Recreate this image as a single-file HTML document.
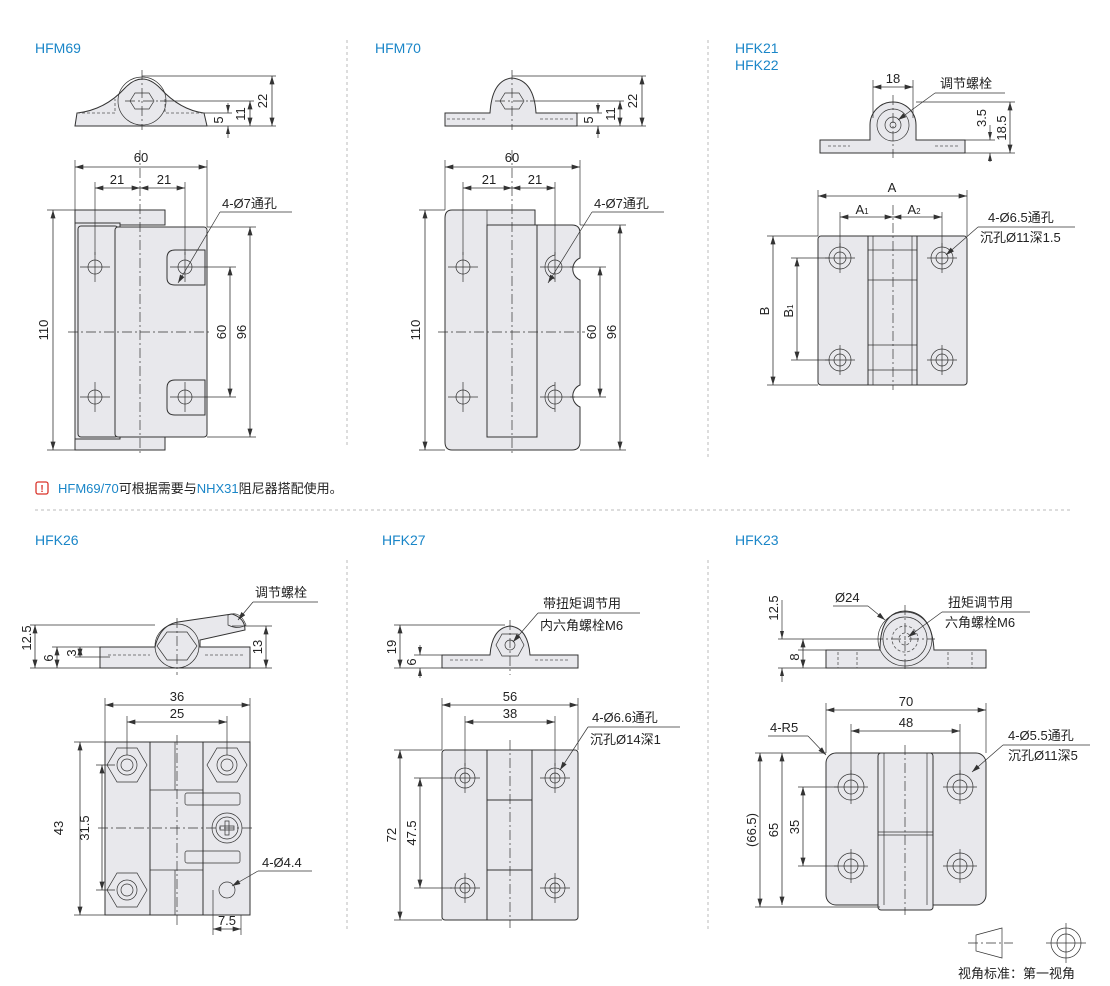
<!DOCTYPE html>
<html><head><meta charset="utf-8"><style>
html,body{margin:0;padding:0;background:#fff}
svg{display:block}
text{font-family:"Liberation Sans","Noto Sans CJK SC",sans-serif;font-size:13px;fill:#222}
.t{fill:#1a86c8;font-size:14px}
.s{fill:#e8e8ec;stroke:#333;stroke-width:1}
.e{stroke:#333;stroke-width:.7;fill:none}
.d{stroke:#333;stroke-width:.8;fill:none;marker-start:url(#a);marker-end:url(#a)}
.c{stroke:#333;stroke-width:.7;fill:none;stroke-dasharray:10 3 2 3}
.h{stroke:#333;stroke-width:.9;fill:#e8e8ec}
.dv{stroke:#bbb;stroke-width:1;stroke-dasharray:3 3;fill:none}
.dash{stroke:#555;stroke-width:.8;stroke-dasharray:3 2;fill:none}
</style></head><body>
<svg width="1110" height="986" viewBox="0 0 1110 986" xmlns="http://www.w3.org/2000/svg">
<defs>
<marker id="a" viewBox="0 0 10 6" refX="10" refY="3" markerWidth="9" markerHeight="5" orient="auto-start-reverse" markerUnits="userSpaceOnUse"><path d="M0,0L10,3L0,6z" fill="#333"/></marker>
</defs>

<!-- dividers -->
<line class="dv" x1="347" y1="40" x2="347" y2="445"/>
<line class="dv" x1="708" y1="40" x2="708" y2="460"/>
<line class="dv" x1="35" y1="510" x2="1070" y2="510"/>
<line class="dv" x1="347" y1="560" x2="347" y2="930"/>
<line class="dv" x1="708" y1="560" x2="708" y2="930"/>

<!-- ============ HFM69 ============ -->
<text class="t" x="35" y="53">HFM69</text>
<path class="s" d="M75,126 L77,113 Q105,110 125,88 Q142,70 160,88 Q180,110 204,113 L207,126 Z"/>
<circle class="e" cx="142" cy="101" r="24"/>
<polygon class="e" points="135,93 149,93 154,101 149,109 135,109 130,101"/>
<path class="dash" d="M77,113 H115 V99 M204,113 H165 V99"/>
<line class="c" x1="142" y1="70" x2="142" y2="130"/><line class="c" x1="125" y1="101" x2="160" y2="101"/>
<line class="e" x1="142" y1="76" x2="276" y2="76"/><line class="e" x1="160" y1="101" x2="254" y2="101"/>
<line class="e" x1="204" y1="113" x2="232" y2="113"/><line class="e" x1="207" y1="126" x2="276" y2="126"/>
<line class="d" x1="272" y1="76" x2="272" y2="126"/>
<line class="d" x1="250" y1="101" x2="250" y2="126"/>
<line class="e" x1="228" y1="103" x2="228" y2="113"/><line class="e" x1="228" y1="126" x2="228" y2="138"/>
<path d="M228,113l-2,-8h4z M228,126l-2,8h4z" fill="#333"/>
<text transform="translate(245,114) rotate(-90)" text-anchor="middle">11</text>
<text transform="translate(267,101) rotate(-90)" text-anchor="middle">22</text>
<text transform="translate(223,120) rotate(-90)" text-anchor="middle">5</text>

<path class="s" d="M75,210 H165 V225 H75 Z M75,437 H165 V450 H75 Z"/>
<rect class="s" x="75" y="223" width="45" height="216"/>
<rect class="s" x="78" y="226" width="40" height="211" rx="3"/>
<rect class="s" x="115" y="227" width="92" height="210" rx="3"/>
<path class="s" d="M167,258 Q167,250 175,250 H205 V285 H175 Q167,285 167,278 Z"/>
<path class="s" d="M167,388 Q167,380 175,380 H205 V415 H175 Q167,415 167,408 Z"/>
<g class="e"><circle cx="95" cy="267" r="7"/><circle cx="95" cy="397" r="7"/><circle cx="185" cy="267" r="7"/><circle cx="185" cy="397" r="7"/>
<path d="M80,267h30M95,252v30M80,397h30M95,382v30M170,267h35M185,252v30M170,397h35M185,382v30"/></g>
<line class="c" x1="140" y1="150" x2="140" y2="456"/><line class="c" x1="68" y1="332" x2="212" y2="332"/>
<line class="e" x1="75" y1="160" x2="75" y2="210"/><line class="e" x1="207" y1="160" x2="207" y2="227"/>
<line class="d" x1="75" y1="167" x2="207" y2="167"/><text x="141" y="162" text-anchor="middle">60</text>
<line class="e" x1="95" y1="182" x2="95" y2="255"/><line class="e" x1="185" y1="182" x2="185" y2="255"/>
<line class="d" x1="95" y1="188" x2="140" y2="188"/><line class="d" x1="140" y1="188" x2="185" y2="188"/>
<text x="117" y="184" text-anchor="middle">21</text><text x="164" y="184" text-anchor="middle">21</text>
<line class="e" x1="47" y1="210" x2="75" y2="210"/><line class="e" x1="47" y1="450" x2="75" y2="450"/>
<line class="d" x1="53" y1="210" x2="53" y2="450"/><text transform="translate(48,330) rotate(-90)" text-anchor="middle">110</text>
<line class="e" x1="205" y1="267" x2="236" y2="267"/><line class="e" x1="205" y1="397" x2="236" y2="397"/>
<line class="d" x1="230" y1="267" x2="230" y2="397"/><text transform="translate(226,332) rotate(-90)" text-anchor="middle">60</text>
<line class="e" x1="207" y1="227" x2="256" y2="227"/><line class="e" x1="207" y1="437" x2="256" y2="437"/>
<line class="d" x1="250" y1="227" x2="250" y2="437"/><text transform="translate(246,332) rotate(-90)" text-anchor="middle">96</text>
<text x="222" y="208">4-Ø7通孔</text><line class="e" x1="220" y1="212" x2="292" y2="212"/>
<line class="e" x1="220" y1="212" x2="178" y2="283" marker-end="url(#a)"/>

<!-- ============ HFM70 ============ -->
<text class="t" x="375" y="53">HFM70</text>
<path class="s" d="M445,126 V113 H490 Q492,80 512,78 Q534,80 536,113 H577 V126 Z"/>
<polygon class="e" points="505,93 519,93 524,101 519,109 505,109 500,101"/>
<path class="dash" d="M447,119 H485 M540,119 H575"/>
<line class="c" x1="512" y1="70" x2="512" y2="130"/><line class="c" x1="495" y1="101" x2="530" y2="101"/>
<line class="e" x1="512" y1="76" x2="646" y2="76"/><line class="e" x1="530" y1="101" x2="624" y2="101"/>
<line class="e" x1="577" y1="113" x2="602" y2="113"/><line class="e" x1="577" y1="126" x2="646" y2="126"/>
<line class="d" x1="642" y1="76" x2="642" y2="126"/><line class="d" x1="620" y1="101" x2="620" y2="126"/>
<line class="e" x1="598" y1="103" x2="598" y2="113"/><line class="e" x1="598" y1="126" x2="598" y2="138"/>
<path d="M598,113l-2,-8h4z M598,126l-2,8h4z" fill="#333"/>
<text transform="translate(615,114) rotate(-90)" text-anchor="middle">11</text>
<text transform="translate(637,101) rotate(-90)" text-anchor="middle">22</text>
<text transform="translate(593,120) rotate(-90)" text-anchor="middle">5</text>

<path class="s" d="M452,210 H535 V225 H572 Q580,225 580,233 V258 A12,12 0 0 0 580,280 V385 A12,12 0 0 0 580,407 V442 Q580,450 572,450 H452 Q445,450 445,442 V218 Q445,210 452,210 Z"/>
<rect class="s" x="487" y="225" width="50" height="212"/>
<path class="e" d="M487,225 V210"/>
<g class="e"><circle cx="463" cy="267" r="7"/><circle cx="463" cy="397" r="7"/><circle cx="555" cy="267" r="7"/><circle cx="555" cy="397" r="7"/>
<path d="M448,267h30M463,252v30M448,397h30M463,382v30M540,267h35M555,252v30M540,397h35M555,382v30"/>
<path d="M555,255 A12,12 0 0 0 545,267 A12,12 0 0 0 555,279 M555,385 A12,12 0 0 0 545,397 A12,12 0 0 0 555,409"/></g>
<line class="c" x1="512" y1="150" x2="512" y2="456"/><line class="c" x1="438" y1="332" x2="585" y2="332"/>
<line class="e" x1="445" y1="160" x2="445" y2="210"/><line class="e" x1="580" y1="160" x2="580" y2="225"/>
<line class="d" x1="445" y1="167" x2="580" y2="167"/><text x="512" y="162" text-anchor="middle">60</text>
<line class="e" x1="463" y1="182" x2="463" y2="255"/><line class="e" x1="555" y1="182" x2="555" y2="255"/>
<line class="d" x1="463" y1="188" x2="512" y2="188"/><line class="d" x1="512" y1="188" x2="555" y2="188"/>
<text x="489" y="184" text-anchor="middle">21</text><text x="535" y="184" text-anchor="middle">21</text>
<line class="e" x1="419" y1="210" x2="445" y2="210"/><line class="e" x1="419" y1="450" x2="445" y2="450"/>
<line class="d" x1="425" y1="210" x2="425" y2="450"/><text transform="translate(420,330) rotate(-90)" text-anchor="middle">110</text>
<line class="e" x1="570" y1="267" x2="606" y2="267"/><line class="e" x1="570" y1="397" x2="606" y2="397"/>
<line class="d" x1="600" y1="267" x2="600" y2="397"/><text transform="translate(596,332) rotate(-90)" text-anchor="middle">60</text>
<line class="e" x1="580" y1="225" x2="626" y2="225"/><line class="e" x1="580" y1="450" x2="626" y2="450"/>
<line class="d" x1="620" y1="225" x2="620" y2="450"/><text transform="translate(616,332) rotate(-90)" text-anchor="middle">96</text>
<text x="594" y="208">4-Ø7通孔</text><line class="e" x1="592" y1="212" x2="664" y2="212"/>
<line class="e" x1="592" y1="212" x2="548" y2="283" marker-end="url(#a)"/>

<!-- ============ HFK21/22 ============ -->
<text class="t" x="735" y="53">HFK21</text><text class="t" x="735" y="70">HFK22</text>
<path class="s" d="M820,140 H870 V125 A23,23 0 0 1 916,125 V140 H965 V153 H820 Z"/>
<circle class="e" cx="893" cy="125" r="16"/><circle class="e" cx="893" cy="125" r="8"/><circle class="e" cx="893" cy="125" r="3"/>
<path class="dash" d="M828,146 H850 M935,146 H958"/>
<line class="c" x1="893" y1="95" x2="893" y2="158"/>
<line class="e" x1="873" y1="80" x2="873" y2="118"/><line class="e" x1="913" y1="80" x2="913" y2="118"/>
<line class="d" x1="873" y1="87" x2="913" y2="87"/><text x="893" y="83" text-anchor="middle">18</text>
<text x="940" y="88">调节螺栓</text><line class="e" x1="935" y1="93" x2="1005" y2="93"/>
<line class="e" x1="935" y1="93" x2="898" y2="120" marker-end="url(#a)"/>
<line class="e" x1="916" y1="102" x2="1015" y2="102"/><line class="e" x1="965" y1="140" x2="995" y2="140"/><line class="e" x1="965" y1="153" x2="1015" y2="153"/>
<line class="d" x1="1010" y1="102" x2="1010" y2="153"/><text transform="translate(1006,128) rotate(-90)" text-anchor="middle">18.5</text>
<line class="e" x1="990" y1="125" x2="990" y2="140"/><line class="e" x1="990" y1="153" x2="990" y2="162"/>
<path d="M990,140l-2,-8h4z M990,153l-2,8h4z" fill="#333"/>
<text transform="translate(986,118) rotate(-90)" text-anchor="middle">3.5</text>

<rect class="s" x="818" y="236" width="149" height="149" rx="3"/>
<rect class="s" x="868" y="236" width="49" height="149"/>
<path class="e" d="M873,236 V385 M912,236 V385 M868,250 H917 M868,280 H917 M868,345 H917 M868,370 H917"/>
<g class="e"><circle cx="840" cy="258" r="11"/><circle cx="840" cy="258" r="6"/><circle cx="840" cy="360" r="11"/><circle cx="840" cy="360" r="6"/>
<circle cx="942" cy="258" r="11"/><circle cx="942" cy="258" r="6"/><circle cx="942" cy="360" r="11"/><circle cx="942" cy="360" r="6"/>
<path d="M825,258h30M840,243v30M825,360h30M840,345v30M927,258h30M942,243v30M927,360h30M942,345v30"/></g>
<line class="c" x1="893" y1="205" x2="893" y2="390"/>
<line class="e" x1="818" y1="190" x2="818" y2="236"/><line class="e" x1="967" y1="190" x2="967" y2="236"/>
<line class="d" x1="818" y1="196" x2="967" y2="196"/><text x="892" y="192" text-anchor="middle">A</text>
<line class="e" x1="840" y1="212" x2="840" y2="247"/><line class="e" x1="942" y1="212" x2="942" y2="247"/>
<line class="d" x1="840" y1="217" x2="893" y2="217"/><line class="d" x1="893" y1="217" x2="942" y2="217"/>
<text x="862" y="214" text-anchor="middle">A<tspan font-size="8">1</tspan></text><text x="914" y="214" text-anchor="middle">A<tspan font-size="8">2</tspan></text>
<line class="e" x1="767" y1="236" x2="818" y2="236"/><line class="e" x1="767" y1="385" x2="818" y2="385"/>
<line class="d" x1="773" y1="236" x2="773" y2="385"/><text transform="translate(769,311) rotate(-90)" text-anchor="middle">B</text>
<line class="e" x1="791" y1="258" x2="830" y2="258"/><line class="e" x1="791" y1="360" x2="830" y2="360"/>
<line class="d" x1="797" y1="258" x2="797" y2="360"/><text transform="translate(793,311) rotate(-90)" text-anchor="middle">B<tspan font-size="8">1</tspan></text>
<text x="988" y="222">4-Ø6.5通孔</text><text x="980" y="242">沉孔Ø11深1.5</text>
<line class="e" x1="978" y1="227" x2="1075" y2="227"/>
<line class="e" x1="978" y1="227" x2="946" y2="255" marker-end="url(#a)"/>

<!-- note -->
<rect x="36" y="482" width="12" height="12" rx="2" fill="none" stroke="#d9342b" stroke-width="1.3"/>
<text x="42" y="492" text-anchor="middle" style="fill:#d9342b;font-size:10px;font-weight:bold">!</text>
<text x="58" y="493"><tspan style="fill:#1a86c8">HFM69/70</tspan>可根据需要与<tspan style="fill:#1a86c8">NHX31</tspan>阻尼器搭配使用。</text>

<!-- ============ HFK26 ============ -->
<text class="t" x="35" y="545">HFK26</text>
<path class="s" d="M100,647 H155 Q160,625 178,622 L232,614 Q245,618 245,630 L200,640 V647 H250 V668 H100 Z"/>
<circle class="e" cx="177" cy="646" r="22"/><polygon class="e" points="167,632 187,632 197,646 187,660 167,660 157,646"/>
<path class="e" d="M228,615 Q240,610 246,625 Q238,630 228,625Z"/>
<path class="dash" d="M108,655 H150 M205,655 H245"/>
<line class="c" x1="177" y1="618" x2="177" y2="675"/>
<text x="255" y="597">调节螺栓</text><line class="e" x1="253" y1="602" x2="318" y2="602"/>
<line class="e" x1="253" y1="602" x2="238" y2="620" marker-end="url(#a)"/>
<line class="e" x1="30" y1="625" x2="155" y2="625"/><line class="e" x1="30" y1="668" x2="100" y2="668"/>
<line class="d" x1="35" y1="625" x2="35" y2="668"/><text transform="translate(31,638) rotate(-90)" text-anchor="middle">12.5</text>
<line class="e" x1="52" y1="647" x2="100" y2="647"/>
<line class="d" x1="57" y1="647" x2="57" y2="668"/><text transform="translate(53,658) rotate(-90)" text-anchor="middle">6</text>
<line class="e" x1="75" y1="657" x2="110" y2="657"/>
<line class="d" x1="80" y1="647" x2="80" y2="657"/><text transform="translate(76,653) rotate(-90)" text-anchor="middle">3</text>
<line class="e" x1="232" y1="626" x2="272" y2="626"/><line class="e" x1="250" y1="668" x2="272" y2="668"/>
<line class="d" x1="266" y1="626" x2="266" y2="668"/><text transform="translate(262,647) rotate(-90)" text-anchor="middle">13</text>

<rect class="s" x="105" y="742" width="145" height="173"/>
<rect class="s" x="105" y="742" width="45" height="173"/>
<rect class="s" x="203" y="742" width="47" height="173"/>
<path class="e" d="M150,790 H203 M150,870 H203 M175,742 V790 M175,870 V915"/>
<rect class="e" x="185" y="793" width="55" height="12" rx="2"/><rect class="e" x="185" y="851" width="55" height="12" rx="2"/>
<g class="e">
<polygon points="117,748 137,748 147,765 137,782 117,782 107,765"/><circle cx="127" cy="765" r="10"/><circle cx="127" cy="765" r="6"/>
<polygon points="217,748 237,748 247,765 237,782 217,782 207,765"/><circle cx="227" cy="765" r="10"/><circle cx="227" cy="765" r="6"/>
<polygon points="117,873 137,873 147,890 137,907 117,907 107,890"/><circle cx="127" cy="890" r="10"/><circle cx="127" cy="890" r="6"/>
<circle cx="227" cy="890" r="8"/><circle cx="227" cy="828" r="15"/><circle cx="227" cy="828" r="11"/>
<path d="M220,826h14v4h-14z M225,821h4v14h-4z"/>
</g>
<line class="c" x1="177" y1="735" x2="177" y2="925"/><line class="c" x1="98" y1="828" x2="255" y2="828"/>
<line class="e" x1="105" y1="698" x2="105" y2="742"/><line class="e" x1="250" y1="698" x2="250" y2="742"/>
<line class="d" x1="105" y1="705" x2="250" y2="705"/><text x="177" y="701" text-anchor="middle">36</text>
<line class="e" x1="127" y1="716" x2="127" y2="755"/><line class="e" x1="227" y1="716" x2="227" y2="755"/>
<line class="d" x1="127" y1="722" x2="227" y2="722"/><text x="177" y="718" text-anchor="middle">25</text>
<line class="e" x1="74" y1="742" x2="105" y2="742"/><line class="e" x1="74" y1="915" x2="105" y2="915"/>
<line class="d" x1="80" y1="742" x2="80" y2="915"/><text transform="translate(63,828) rotate(-90)" text-anchor="middle">43</text>
<line class="e" x1="96" y1="765" x2="115" y2="765"/><line class="e" x1="96" y1="890" x2="115" y2="890"/>
<line class="d" x1="102" y1="765" x2="102" y2="890"/><text transform="translate(89,828) rotate(-90)" text-anchor="middle">31.5</text>
<text x="262" y="867">4-Ø4.4</text><line class="e" x1="258" y1="871" x2="312" y2="871"/>
<line class="e" x1="258" y1="871" x2="232" y2="886" marker-end="url(#a)"/>
<line class="e" x1="213" y1="890" x2="213" y2="935"/><line class="e" x1="241" y1="915" x2="241" y2="935"/>
<line class="d" x1="213" y1="929" x2="241" y2="929"/><text x="227" y="925" text-anchor="middle">7.5</text>

<!-- ============ HFK27 ============ -->
<text class="t" x="382" y="545">HFK27</text>
<path class="s" d="M442,655 H490 Q492,628 510,626 Q528,628 530,655 H578 V668 H442 Z"/>
<polygon class="e" points="502,634 518,634 524,645 518,656 502,656 496,645"/><circle class="e" cx="510" cy="645" r="5"/>
<path class="dash" d="M450,660 H485 M535,660 H570"/>
<line class="c" x1="510" y1="620" x2="510" y2="675"/>
<text x="543" y="608">带扭矩调节用</text><text x="540" y="630">内六角螺栓M6</text>
<line class="e" x1="538" y1="613" x2="640" y2="613"/>
<line class="e" x1="538" y1="613" x2="513" y2="642" marker-end="url(#a)"/>
<line class="e" x1="394" y1="625" x2="505" y2="625"/><line class="e" x1="394" y1="668" x2="442" y2="668"/><line class="e" x1="414" y1="655" x2="442" y2="655"/>
<line class="d" x1="400" y1="625" x2="400" y2="668"/><text transform="translate(396,647) rotate(-90)" text-anchor="middle">19</text>
<line class="e" x1="420" y1="645" x2="420" y2="655"/><line class="e" x1="420" y1="668" x2="420" y2="678"/>
<path d="M420,655l-2,-8h4z M420,668l-2,8h4z" fill="#333"/>
<text transform="translate(416,662) rotate(-90)" text-anchor="middle">6</text>

<rect class="s" x="442" y="750" width="136" height="170" rx="3"/>
<rect class="s" x="487" y="750" width="45" height="170"/>
<rect class="s" x="487" y="800" width="45" height="70"/>
<g class="e"><circle cx="465" cy="778" r="10"/><circle cx="465" cy="778" r="5"/><circle cx="465" cy="888" r="10"/><circle cx="465" cy="888" r="5"/>
<circle cx="555" cy="778" r="10"/><circle cx="555" cy="778" r="5"/><circle cx="555" cy="888" r="10"/><circle cx="555" cy="888" r="5"/>
<path d="M450,778h30M465,763v30M450,888h30M465,873v30M540,778h30M555,763v30M540,888h30M555,873v30"/></g>
<line class="c" x1="510" y1="740" x2="510" y2="928"/>
<line class="e" x1="442" y1="698" x2="442" y2="750"/><line class="e" x1="578" y1="698" x2="578" y2="750"/>
<line class="d" x1="442" y1="705" x2="578" y2="705"/><text x="510" y="701" text-anchor="middle">56</text>
<line class="e" x1="465" y1="716" x2="465" y2="766"/><line class="e" x1="555" y1="716" x2="555" y2="766"/>
<line class="d" x1="465" y1="722" x2="555" y2="722"/><text x="510" y="718" text-anchor="middle">38</text>
<line class="e" x1="394" y1="750" x2="442" y2="750"/><line class="e" x1="394" y1="920" x2="442" y2="920"/>
<line class="d" x1="400" y1="750" x2="400" y2="920"/><text transform="translate(396,835) rotate(-90)" text-anchor="middle">72</text>
<line class="e" x1="414" y1="778" x2="452" y2="778"/><line class="e" x1="414" y1="888" x2="452" y2="888"/>
<line class="d" x1="420" y1="778" x2="420" y2="888"/><text transform="translate(416,833) rotate(-90)" text-anchor="middle">47.5</text>
<text x="592" y="722">4-Ø6.6通孔</text><text x="590" y="744">沉孔Ø14深1</text>
<line class="e" x1="588" y1="727" x2="680" y2="727"/>
<line class="e" x1="588" y1="727" x2="560" y2="770" marker-end="url(#a)"/>

<!-- ============ HFK23 ============ -->
<text class="t" x="735" y="545">HFK23</text>
<path class="s" d="M826,650 H880 Q880,612 905,611 Q932,612 934,650 H986 V668 H826 Z"/>
<circle class="e" cx="905" cy="639" r="27"/><circle class="e" cx="905" cy="639" r="22"/>
<circle class="dash" cx="905" cy="639" r="13"/><circle class="dash" cx="905" cy="639" r="6"/>
<path class="dash" d="M838,652 V668 M857,652 V668 M948,652 V668 M972,652 V668"/>
<line class="c" x1="905" y1="605" x2="905" y2="672"/><line class="c" x1="873" y1="639" x2="935" y2="639"/>
<text x="835" y="602">Ø24</text><line class="e" x1="833" y1="606" x2="868" y2="606"/>
<line class="e" x1="868" y1="606" x2="885" y2="620" marker-end="url(#a)"/>
<text x="948" y="607">扭矩调节用</text><text x="945" y="627">六角螺栓M6</text>
<line class="e" x1="942" y1="612" x2="1030" y2="612"/>
<line class="e" x1="942" y1="612" x2="908" y2="637" marker-end="url(#a)"/>
<line class="e" x1="778" y1="639" x2="873" y2="639"/><line class="e" x1="798" y1="650" x2="826" y2="650"/><line class="e" x1="778" y1="668" x2="826" y2="668"/>
<line class="e" x1="782" y1="600" x2="782" y2="639"/><line class="e" x1="782" y1="668" x2="782" y2="682"/>
<path d="M782,639l-2,-8h4z M782,668l-2,8h4z" fill="#333"/>
<text transform="translate(778,608) rotate(-90)" text-anchor="middle">12.5</text>
<line class="d" x1="803" y1="639" x2="803" y2="668"/><text transform="translate(799,657) rotate(-90)" text-anchor="middle">8</text>

<rect class="s" x="826" y="753" width="160" height="152" rx="10"/>
<rect class="s" x="878" y="753" width="55" height="157" rx="3"/>
<path class="e" d="M884,753 V905 M927,753 V905 M878,832 H933 M878,835 H933"/>
<g class="e"><circle cx="851" cy="787" r="13"/><circle cx="851" cy="787" r="7"/><circle cx="851" cy="866" r="13"/><circle cx="851" cy="866" r="7"/>
<circle cx="960" cy="787" r="13"/><circle cx="960" cy="787" r="7"/><circle cx="960" cy="866" r="13"/><circle cx="960" cy="866" r="7"/>
<path d="M834,787h34M851,770v34M834,866h34M851,849v34M943,787h34M960,770v34M943,866h34M960,849v34"/></g>
<line class="c" x1="905" y1="745" x2="905" y2="915"/>
<line class="e" x1="826" y1="703" x2="826" y2="753"/><line class="e" x1="986" y1="703" x2="986" y2="753"/>
<line class="d" x1="826" y1="710" x2="986" y2="710"/><text x="906" y="706" text-anchor="middle">70</text>
<line class="e" x1="851" y1="724" x2="851" y2="775"/><line class="e" x1="960" y1="724" x2="960" y2="775"/>
<line class="d" x1="851" y1="731" x2="960" y2="731"/><text x="906" y="727" text-anchor="middle">48</text>
<text x="770" y="732">4-R5</text><line class="e" x1="768" y1="736" x2="808" y2="736"/>
<line class="e" x1="808" y1="736" x2="826" y2="755" marker-end="url(#a)"/>
<line class="e" x1="755" y1="753" x2="826" y2="753"/><line class="e" x1="755" y1="907" x2="880" y2="907"/>
<line class="d" x1="760" y1="753" x2="760" y2="907"/><text transform="translate(756,830) rotate(-90)" text-anchor="middle">(66.5)</text>
<line class="d" x1="782" y1="753" x2="782" y2="905"/><text transform="translate(778,830) rotate(-90)" text-anchor="middle">65</text>
<line class="e" x1="798" y1="787" x2="838" y2="787"/><line class="e" x1="798" y1="866" x2="838" y2="866"/>
<line class="d" x1="803" y1="787" x2="803" y2="866"/><text transform="translate(799,827) rotate(-90)" text-anchor="middle">35</text>
<text x="1008" y="740">4-Ø5.5通孔</text><text x="1008" y="760">沉孔Ø11深5</text>
<line class="e" x1="1003" y1="745" x2="1090" y2="745"/>
<line class="e" x1="1003" y1="745" x2="972" y2="772" marker-end="url(#a)"/>

<!-- legend -->
<polygon class="e" points="976,935 1002,928 1002,958 976,951"/>
<line class="c" x1="968" y1="943" x2="1013" y2="943"/>
<circle class="e" cx="1066" cy="943" r="15"/><circle class="e" cx="1066" cy="943" r="9"/>
<path class="e" d="M1046,943h40M1066,923v40"/>
<text x="958" y="978">视角标准：第一视角</text>
</svg>
</body></html>
